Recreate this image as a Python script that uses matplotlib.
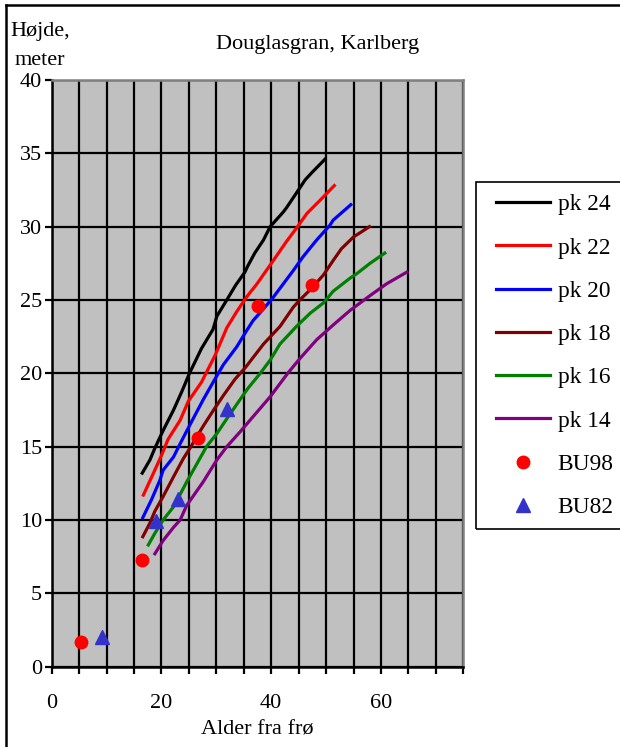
import matplotlib
matplotlib.use("Agg")
import matplotlib.pyplot as plt
from matplotlib.lines import Line2D
from matplotlib.patches import Rectangle
from matplotlib.ticker import MultipleLocator

plt.rcParams['font.family'] = ['Liberation Serif', 'DejaVu Serif']

# height curves per site class (age from seed, height in m)
pk24_x = [16.5, 17.9, 18.8, 20.3, 22.2, 23.7, 25.1, 27.3, 29.4, 30.1, 31.9, 33.5, 35.2, 35.7,
          37.0, 38.6, 39.8, 42.2, 42.8, 44.6, 46.2, 47.7, 49.8]
pk24_y = [13.2, 14.1, 14.9, 16.1, 17.5, 18.75, 20.0, 21.7, 23.0, 23.9, 25.0, 26.0, 26.9, 27.3,
          28.2, 29.1, 30.0, 31.0, 31.3, 32.3, 33.2, 33.8, 34.6]

pk22_x = [16.7, 18.3, 20.0, 21.2, 23.4, 24.9, 27.3, 29.8, 31.9, 33.7, 35.5, 37.4, 40.4, 42.8,
          44.6, 46.5, 48.9, 51.5]
pk22_y = [11.7, 13.0, 14.4, 15.5, 16.8, 18.1, 19.4, 21.25, 23.1, 24.2, 25.2, 26.1, 27.7, 29.0,
          29.9, 30.9, 31.8, 32.8]

pk20_x = [16.6, 18.2, 19.7, 20.3, 22.2, 23.4, 25.2, 27.6, 29.5, 31.3, 33.7, 35.5, 36.7,
          38.6, 40.4, 42.2, 44.0, 45.8, 48.3, 50.7, 51.3, 53.75, 54.5]
pk20_y = [10.16, 11.4, 12.7, 13.4, 14.3, 15.2, 16.5, 18.2, 19.45, 20.6, 21.8, 22.9, 23.6,
          24.4, 25.2, 26.1, 27.0, 27.95, 29.1, 30.1, 30.45, 31.25, 31.5]

pk18_x = [16.6, 17.9, 18.8, 20.3, 22.2, 24.0, 25.2, 27.6, 29.5, 31.3, 33.4, 35.3, 38.6, 41.6,
          44.0, 45.2, 47.1, 49.5, 51.3, 52.8, 55.0, 56.5, 57.9]
pk18_y = [8.86, 9.8, 10.6, 11.6, 12.95, 14.2, 14.9, 16.4, 17.5, 18.5, 19.6, 20.4, 22.0, 23.2,
          24.5, 25.0, 25.7, 26.7, 27.7, 28.5, 29.3, 29.66, 30.0]

pk16_x = [17.6, 18.8, 20.3, 22.2, 24.6, 26.4, 28.2, 30.1, 31.9, 34.3, 35.8, 38.0, 39.8, 41.6,
          44.6, 47.1, 49.5, 51.3, 54.4, 55.6, 58.0, 60.7]
pk16_y = [8.3, 9.1, 10.0, 10.9, 12.6, 13.8, 15.0, 15.9, 16.9, 18.2, 19.0, 20.0, 20.9, 22.0,
          23.2, 24.1, 24.8, 25.6, 26.5, 26.8, 27.5, 28.2]

pk14_x = [18.8, 20.3, 22.2, 23.4, 24.6, 27.6, 30.1, 31.9, 34.3, 36.7, 39.8, 43.0, 45.2, 48.3,
          51.3, 54.4, 58.0, 61.0, 64.7]
pk14_y = [7.7, 8.6, 9.5, 10.0, 11.0, 12.6, 14.1, 15.0, 16.0, 17.05, 18.4, 20.0, 21.0, 22.3,
          23.3, 24.3, 25.3, 26.1, 26.9]

# measured stands
bu98_x = [5.3, 16.4, 26.6, 37.5, 47.4]
bu98_y = [1.65, 7.3, 15.6, 24.6, 26.0]
bu82_x = [9.1, 18.95, 23.1, 31.9]
bu82_y = [2.0, 9.96, 11.4, 17.6]

W, H = 620, 747
fs = 16
fig = plt.figure(figsize=(W / 100, H / 100), dpi=100)
ax = fig.add_axes([51.7 / W, 1 - 666.7 / H, (463.3 - 51.7) / W, (666.7 - 80) / H])
ax.set_facecolor('#c0c0c0')

lw = 2.3
curves = [
    (pk24_x, pk24_y, '#000000', 'pk 24'),
    (pk22_x, pk22_y, '#ff0000', 'pk 22'),
    (pk20_x, pk20_y, '#0000ff', 'pk 20'),
    (pk18_x, pk18_y, '#800000', 'pk 18'),
    (pk16_x, pk16_y, '#008000', 'pk 16'),
    (pk14_x, pk14_y, '#800080', 'pk 14'),
]
handles = []
for xs, ys, col, lab in curves:
    h, = ax.plot(xs, ys, color=col, lw=lw, label=lab, zorder=3)
    handles.append(h)

h98, = ax.plot(bu98_x, bu98_y, 'o', color='#ff0000', ms=9, mec='#ff0000', label='BU98', zorder=4)
h82, = ax.plot(bu82_x, bu82_y, '^', color='#3333cc', ms=10, mec='#3333cc', label='BU82', zorder=4)
handles += [h98, h82]

ax.set_xlim(0, 75)
ax.set_ylim(0, 40)
ax.set_xticks([0, 20, 40, 60])
ax.xaxis.set_minor_locator(MultipleLocator(5))
ax.yaxis.set_major_locator(MultipleLocator(5))
ax.grid(True, which='both', color='black', lw=1.6, zorder=1)
ax.set_axisbelow(True)
ax.tick_params(which='both', direction='out', length=5, width=1.6, color='black',
               labelsize=fs)
ax.tick_params(axis='x', which='both', pad=15)
ax.tick_params(axis='y', which='both', pad=2)

for side in ('left', 'bottom'):
    ax.spines[side].set_color('black')
    ax.spines[side].set_linewidth(1.8)
for side in ('top', 'right'):
    ax.spines[side].set_color('#808080')
    ax.spines[side].set_linewidth(1.8)

ax.set_xlabel('Alder fra frø', fontsize=fs, labelpad=5)

fig.text(318 / W, 1 - 44 / H, 'Douglasgran, Karlberg', ha='center', va='center', fontsize=fs)
fig.text(40 / W, 1 - 46 / H, 'Højde,\nmeter', ha='center', va='center', fontsize=fs,
         linespacing=1.75)

# legend box
fig.patches.append(Rectangle((475.7 / W, 1 - 529 / H), (640 - 475.7) / W, (529 - 182.3) / H,
                             transform=fig.transFigure, fill=False, ec='black', lw=1.2))
fig.legend(handles=handles, loc='upper left', bbox_to_anchor=(496 / W, 1 - 194 / H),
           frameon=False, fontsize=16.8, handlelength=2.3, handletextpad=0.35,
           labelspacing=0.94, borderaxespad=0, borderpad=0)

# outer frame
fig.add_artist(Line2D([6 / W, 1], [1 - 5 / H, 1 - 5 / H], color='black', lw=1.8,
                      transform=fig.transFigure))
fig.add_artist(Line2D([6 / W, 6 / W], [0, 1 - 5 / H], color='black', lw=1.8,
                      transform=fig.transFigure))

fig.savefig('out.png', dpi=100)
